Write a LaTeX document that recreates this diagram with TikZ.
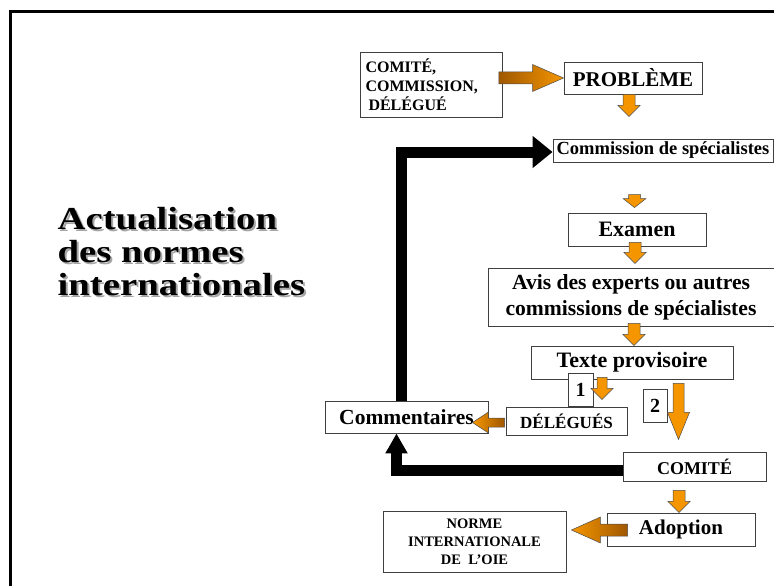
\documentclass[tikz,border=0pt]{standalone}
\usepackage{fontspec}
\setmainfont{Liberation Serif}
\usepackage{xcolor}
\usepackage{graphicx}
\usepackage{tikz}
\usetikzlibrary{
    positioning,
    arrows.meta,
    calc
}

\definecolor{orangeoie}{RGB}{245,150,0}
\definecolor{brunoie}{RGB}{160,88,0}

\newcommand{\gras}[2]{\fontsize{#1}{#2}\selectfont\bfseries}
\newcommand{\titretexte}{\scalebox{1.21}[1]{\begin{tabular}[t]{@{}l@{}}Actualisation\\des normes\\internationales\end{tabular}}}
% fleche pleine : style, depart, arrivee, demi-tige, demi-tete, longueur tete
\newcommand{\fleche}[6][fleche]{%
    \path ($(#3)!#6pt!(#2)$) coordinate (fh);
    \draw[#1] ($(#2)!#4pt!90:(#3)$) -- ($(fh)!#4pt!90:(#3)$) -- ($(fh)!#5pt!90:(#3)$)
        -- (#3) -- ($(fh)!#5pt!-90:(#3)$) -- ($(fh)!#4pt!-90:(#3)$) -- ($(#2)!#4pt!-90:(#3)$) -- cycle;}

\tikzset{
    boite/.style={draw=black!75, line width=0.9pt, fill=white, inner sep=0pt, align=center},
    fleche/.style={draw=black!70, line width=0.5pt, fill=orangeoie},
    flechedroite/.style={draw=black!70, line width=0.5pt, left color=brunoie, right color=orangeoie},
    flechegauche/.style={draw=black!70, line width=0.5pt, left color=orangeoie, right color=brunoie},
    retour/.style={line width=11pt, line join=miter, -{Triangle[length=20pt,width=#1]}},
    titre/.style={anchor=base west, inner sep=0pt, font=\gras{32}{33}}
}

\begin{document}
\begin{tikzpicture}[x=1pt, y=-1pt]
    \useasboundingbox (0,0) rectangle (774,586);
    % cadre
    \draw[line width=3pt] (10.5,590) |- (780,11.5);

    % titre avec ombre
    \node[titre, text=black!35] at (59.5,231) {\titretexte};
    \node[titre] (titre) at (57.5,229) {\titretexte};

    % boites
    \node[boite, font=\gras{16}{19}, text width=132pt, align=left, inner xsep=5pt, minimum height=65pt] (comite) at (431.5,84.5) {COMITÉ,\\COMMISSION,\\\hspace*{3pt}DÉLÉGUÉ};
    \node[boite, font=\gras{21}{25}, minimum width=138pt, minimum height=32pt] (probleme) at (633,78) {PROBLÈME};
    \node[boite, font=\gras{18.5}{22}, minimum width=220pt, minimum height=23pt] (commission) at (663,150.5) {Commission de spécialistes};
    \node[boite, font=\gras{22}{25}, minimum width=138pt, minimum height=33pt] (examen) at (637,229.5) {Examen};
    \node[boite, font=\gras{21.6}{26}, minimum width=286pt, minimum height=58pt] (avis) at (631,297) {Avis des experts ou autres\\commissions de spécialistes};
    \node[boite, font=\gras{22}{25}, minimum width=202pt, minimum height=33pt] (texte) at (632,362.5) {Texte provisoire};
    \node[boite, font=\gras{20}{24}, minimum width=25pt, minimum height=33pt] (un) at (580.5,389.5) {1};
    \node[boite, font=\gras{17}{20}, minimum width=121pt, minimum height=28pt] (delegues) at (566.5,421) {DÉLÉGUÉS};
    \node[boite, font=\gras{21.5}{25}, minimum width=163pt, minimum height=32pt] (commentaires) at (406.5,417) {Commentaires};
    \node[boite, font=\gras{20}{24}, minimum width=24pt, minimum height=33pt] (deux) at (655,405.5) {2};
    \node[boite, font=\gras{18}{22}, minimum width=143pt, minimum height=29pt] (comiteb) at (694.5,466.5) {COMITÉ};
    \node[boite, font=\gras{21}{25}, minimum width=148pt, minimum height=33pt] (adoption) at (681,529.5) {Adoption};
    \node[boite, font=\gras{14.5}{18}, minimum width=183pt, minimum height=61pt] (norme) at (474.5,541.5) {NORME\\INTERNATIONALE\\DE\ \ L’OIE};

    % retours en noir
    \draw[retour=31pt] ($(commentaires.north)+(-5.5,0)$) |- ($(commission.west)+(0,1.5)$);
    \draw[retour=21pt] ($(comiteb.west)+(0,4)$) -| ($(commentaires.south)+(-10,0)$);

    % fleches orange
    \coordinate (p0) at ($(comite.east |- probleme.west)+(-4,0)$);
    \fleche[flechedroite]{p0}{probleme.west}{6}{13.5}{31}
    \coordinate (p1) at ($(probleme.south)+(-4,0)$);
    \coordinate (p2) at ($(probleme.south)+(-4,22)$);
    \fleche{p1}{p2}{6}{11}{11}
    \coordinate (e0) at ($(examen.north)+(-2.5,-18)$);
    \coordinate (e1) at ($(examen.north)+(-2.5,-5)$);
    \fleche{e0}{e1}{6}{11.5}{9}
    \coordinate (e2) at ($(examen.south)+(-2,-4)$);
    \coordinate (e3) at ($(examen.south)+(-2,17)$);
    \fleche{e2}{e3}{6}{11}{11}
    \coordinate (a0) at ($(avis.south)+(3,-3)$);
    \coordinate (a1) at ($(avis.south)+(3,19)$);
    \fleche{a0}{a1}{6}{11}{11}
    \coordinate (t0) at ($(texte.south)+(-30,-2)$);
    \coordinate (t1) at ($(texte.south)+(-30,20)$);
    \fleche{t0}{t1}{5}{11}{11}
    \coordinate (t2) at ($(texte.south)+(46.5,4)$);
    \coordinate (t3) at ($(texte.south)+(46.5,60)$);
    \fleche{t2}{t3}{5.5}{11}{27}
    \coordinate (d0) at ($(delegues.west)+(-1,1.5)$);
    \coordinate (d1) at ($(commentaires.east)+(-16,5.5)$);
    \fleche[flechegauche]{d0}{d1}{4.5}{10.5}{16}
    \coordinate (c0) at ($(comiteb.south)+(-15.5,9)$);
    \coordinate (c1) at ($(comiteb.south)+(-15.5,31)$);
    \fleche{c0}{c1}{6}{11}{11}
    \coordinate (n0) at ($(adoption.west)+(21,0.5)$);
    \coordinate (n1) at ($(norme.east)+(5,-11.5)$);
    \fleche[flechegauche]{n0}{n1}{6}{13}{29}
\end{tikzpicture}
\end{document}
